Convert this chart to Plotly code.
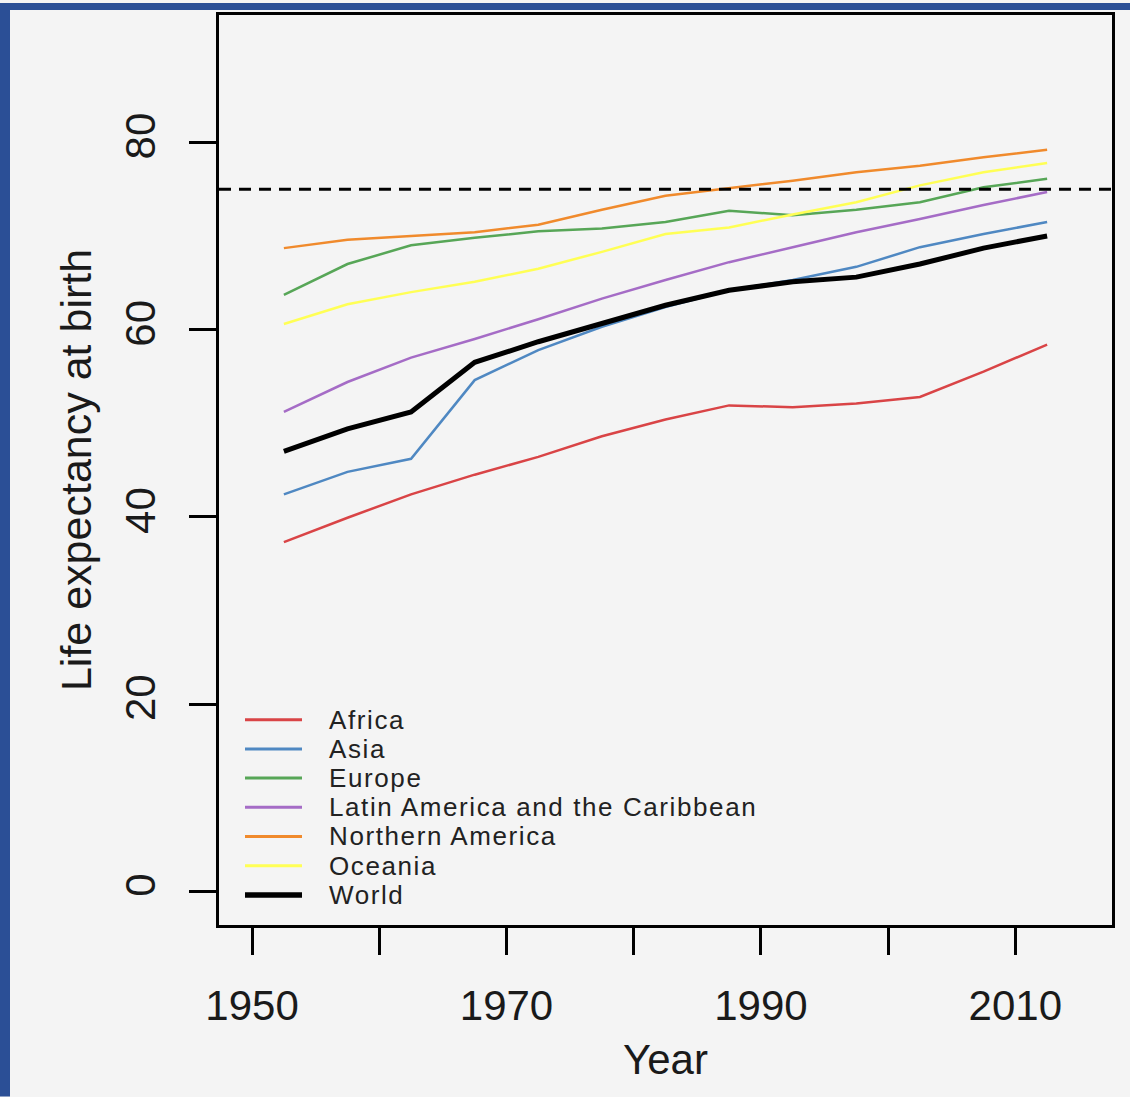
import plotly.graph_objects as go

years = [1952.5, 1957.5, 1962.5, 1967.5, 1972.5, 1977.5, 1982.5, 1987.5, 1992.5, 1997.5, 2002.5, 2007.5, 2012.5]

africa = [37.3, 39.9, 42.4, 44.5, 46.4, 48.6, 50.4, 51.9, 51.7, 52.1, 52.8, 55.5, 58.4]
asia = [42.4, 44.8, 46.2, 54.6, 57.8, 60.3, 62.4, 64.2, 65.3, 66.7, 68.8, 70.2, 71.5]
europe = [63.7, 67.0, 69.0, 69.8, 70.5, 70.8, 71.5, 72.7, 72.2, 72.8, 73.6, 75.2, 76.1]
latin_america = [51.2, 54.4, 57.0, 59.0, 61.1, 63.3, 65.3, 67.2, 68.8, 70.4, 71.8, 73.3, 74.7]
northern_america = [68.7, 69.6, 70.0, 70.4, 71.2, 72.8, 74.3, 75.1, 75.9, 76.8, 77.5, 78.4, 79.2]
oceania = [60.6, 62.7, 64.0, 65.1, 66.5, 68.3, 70.2, 70.9, 72.3, 73.6, 75.4, 76.8, 77.8]
world = [47.0, 49.4, 51.2, 56.5, 58.7, 60.6, 62.6, 64.2, 65.1, 65.6, 67.0, 68.7, 70.0]

series_names = ["Africa", "Asia", "Europe", "Latin America and the Caribbean",
                "Northern America", "Oceania", "World"]
series_values = [africa, asia, europe, latin_america, northern_america, oceania, world]
series_colors = ["#d94446", "#4f88c2", "#57a657", "#a56cc6", "#f08a2c", "#ffff55", "#000000"]
series_widths = [2.5, 2.5, 2.5, 2.5, 2.5, 2.5, 5]

reference_level = 75
x_tick_vals = [1950, 1960, 1970, 1980, 1990, 2000, 2010]
x_tick_text = ["1950", "", "1970", "", "1990", "", "2010"]
y_tick_vals = [0, 20, 40, 60, 80]

FONT = "Liberation Sans, Arial, sans-serif"
BG = "#f4f4f4"
BLUE = "#2b4f96"

W, H = 1130, 1097
L, R, T, B = 219, 18, 12, 172
PW, PH = W - L - R, H - T - B


def px_x(p):
    return (p - L) / PW


def px_y(p):
    return (H - B - p) / PH


fig = go.Figure()
for name, vals, col, wd in zip(series_names, series_values, series_colors, series_widths):
    fig.add_trace(go.Scatter(x=years, y=vals, mode="lines", name=name,
                             line=dict(color=col, width=wd), showlegend=False))

fig.add_hline(y=reference_level, line=dict(color="black", width=3, dash="12px,8px"))

shapes = []
annotations = []
# blue frame at top and left edges
shapes.append(dict(type="rect", xref="paper", yref="paper", x0=px_x(0), x1=px_x(10),
                   y0=px_y(H), y1=px_y(0), fillcolor=BLUE, line=dict(width=0), layer="below"))
shapes.append(dict(type="rect", xref="paper", yref="paper", x0=px_x(0), x1=px_x(W),
                   y0=px_y(7), y1=px_y(0), fillcolor=BLUE, line=dict(width=0), layer="below"))

# legend (R style, no box)
row0, step = 719, 29.3
for i, (name, col, wd) in enumerate(zip(series_names, series_colors, series_widths)):
    yc = px_y(row0 + i * step)
    shapes.append(dict(type="line", xref="paper", yref="paper", x0=px_x(245), x1=px_x(302),
                       y0=yc, y1=yc, line=dict(color=col, width=wd + 0.5)))
    annotations.append(dict(xref="paper", yref="paper", x=px_x(328), y=yc,
                            text="<span style='letter-spacing:1.6px'>" + name + "</span>",
                            showarrow=False, xanchor="left", yanchor="middle", borderpad=0,
                            font=dict(family=FONT, size=26, color="#222222")))

fig.update_layout(
    width=W, height=H,
    margin=dict(l=L, r=R, t=T, b=B, pad=0),
    paper_bgcolor=BG, plot_bgcolor=BG,
    font=dict(family=FONT, color="#1a1a1a"),
    showlegend=False,
    shapes=list(fig.layout.shapes) + shapes,
    annotations=annotations,
)

fig.update_xaxes(
    range=[1947.4, 2017.6], tickmode="array", tickvals=x_tick_vals, ticktext=x_tick_text,
    showgrid=False, zeroline=False, showline=True, mirror=True, linecolor="black", linewidth=2.5,
    ticks="outside", ticklen=27, tickwidth=2.5, tickcolor="black",
    tickfont=dict(family=FONT, size=42, color="#1a1a1a"), ticklabelstandoff=15,
    title=dict(text="Year", font=dict(family=FONT, size=42, color="#1a1a1a"), standoff=17),
)
fig.update_yaxes(
    range=[-3.6, 93.6], tickmode="array", tickvals=y_tick_vals,
    showgrid=False, zeroline=False, showline=True, mirror=True, linecolor="black", linewidth=2.5,
    ticks="outside", ticklen=27, tickwidth=2.5, tickcolor="black", tickangle=-90,
    tickfont=dict(family=FONT, size=42, color="#1a1a1a"), ticklabelstandoff=17,
    title=dict(text="Life expectancy at birth", font=dict(family=FONT, size=43, color="#1a1a1a"), standoff=13),
)

fig.write_html("out.html", config={"displayModeBar": False},
               post_script="document.body.style.margin='0';document.body.style.padding='0';")
